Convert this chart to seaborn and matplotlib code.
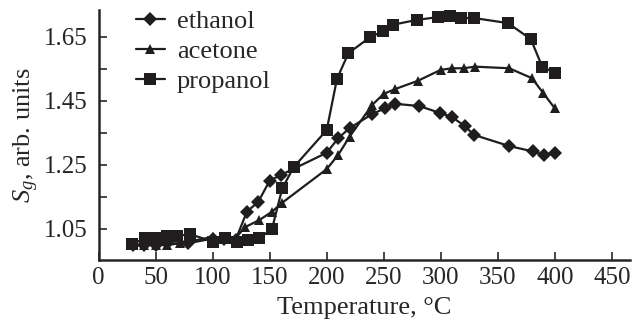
import numpy as np
import pandas as pd
import seaborn as sns
from matplotlib import pyplot as plt

# data
ethanol_t = [30, 40, 50, 60, 78, 100, 110, 120, 130, 140, 150, 160, 200, 210, 220, 240, 251, 260, 281, 299, 310, 321, 329, 360, 381, 391, 400]
ethanol_s = [1.00, 1.00, 1.00, 1.005, 1.005, 1.02, 1.02, 1.015, 1.104, 1.135, 1.201, 1.219, 1.288, 1.333, 1.365, 1.409, 1.427, 1.441, 1.434, 1.413, 1.399, 1.372, 1.344, 1.309, 1.292, 1.281, 1.287]

acetone_t = [40, 50, 60, 71, 100, 110, 120, 128, 141, 152, 161, 200, 210, 220, 240, 250, 260, 280, 300, 310, 320, 330, 360, 380, 390, 400]
acetone_s = [1.00, 1.00, 1.00, 1.005, 1.025, 1.02, 1.02, 1.055, 1.078, 1.104, 1.132, 1.237, 1.281, 1.338, 1.438, 1.472, 1.487, 1.513, 1.547, 1.552, 1.552, 1.557, 1.552, 1.521, 1.474, 1.427]

propanol_t = [29, 41, 49, 60, 69, 80, 100, 111, 121, 131, 141, 152, 161, 171, 200, 209, 219, 238, 249, 258, 279, 298, 308, 318, 329, 359, 379, 389, 400]
propanol_s = [1.003, 1.021, 1.021, 1.028, 1.028, 1.034, 1.010, 1.021, 1.010, 1.016, 1.021, 1.05, 1.177, 1.243, 1.359, 1.519, 1.599, 1.649, 1.667, 1.688, 1.703, 1.712, 1.716, 1.709, 1.709, 1.693, 1.643, 1.557, 1.537]

sns.set_style("ticks")
plt.rcParams['font.family'] = ['Liberation Serif', 'DejaVu Serif']
plt.rcParams['mathtext.fontset'] = 'custom'
plt.rcParams['mathtext.rm'] = 'Liberation Serif'
plt.rcParams['mathtext.it'] = 'Liberation Serif:italic'

fig = plt.figure(figsize=(6.32, 3.26), dpi=100)
ax = fig.add_axes([98.7/632, 66/326, (630-98.7)/632, 250/326])

series = [("ethanol", ethanol_t, ethanol_s, "D", 6.8),
          ("acetone", acetone_t, acetone_s, "^", 7.8),
          ("propanol", propanol_t, propanol_s, "s", 8)]
for name, t, s, m, ms in series:
    df = pd.DataFrame({"T": t, "S": s})
    sns.lineplot(data=df, x="T", y="S", ax=ax, color="#1f1d1e", marker=m, markersize=ms,
                 markeredgewidth=0, linewidth=1.6, label=name, sort=False)

ax.set_xlim(0, 466)
ax.set_ylim(0.953, 1.734)
ax.set_xticks(np.arange(0, 451, 50))
ax.set_yticks([1.05, 1.25, 1.45, 1.65])
ax.set_yticks([1.15, 1.35, 1.55], minor=True)
ax.tick_params(axis='both', which='both', direction='in', length=6, width=1.2, labelsize=18)
ax.tick_params(axis='y', pad=8)
ax.tick_params(axis='x', pad=5)
for sp in ['left', 'bottom']:
    ax.spines[sp].set_linewidth(1.8)
sns.despine(ax=ax)

ax.set_xlabel("Temperature, °C", fontsize=19, labelpad=6)
ax.set_ylabel("$S_g$, arb. units", fontsize=19, labelpad=2)

ax.legend(loc='upper left', bbox_to_anchor=(0.07, 1.0), frameon=False, fontsize=19,
          borderpad=0, borderaxespad=0, handlelength=1.1, handletextpad=0.45, labelspacing=0.24)

plt.savefig("out.png", dpi=100)
